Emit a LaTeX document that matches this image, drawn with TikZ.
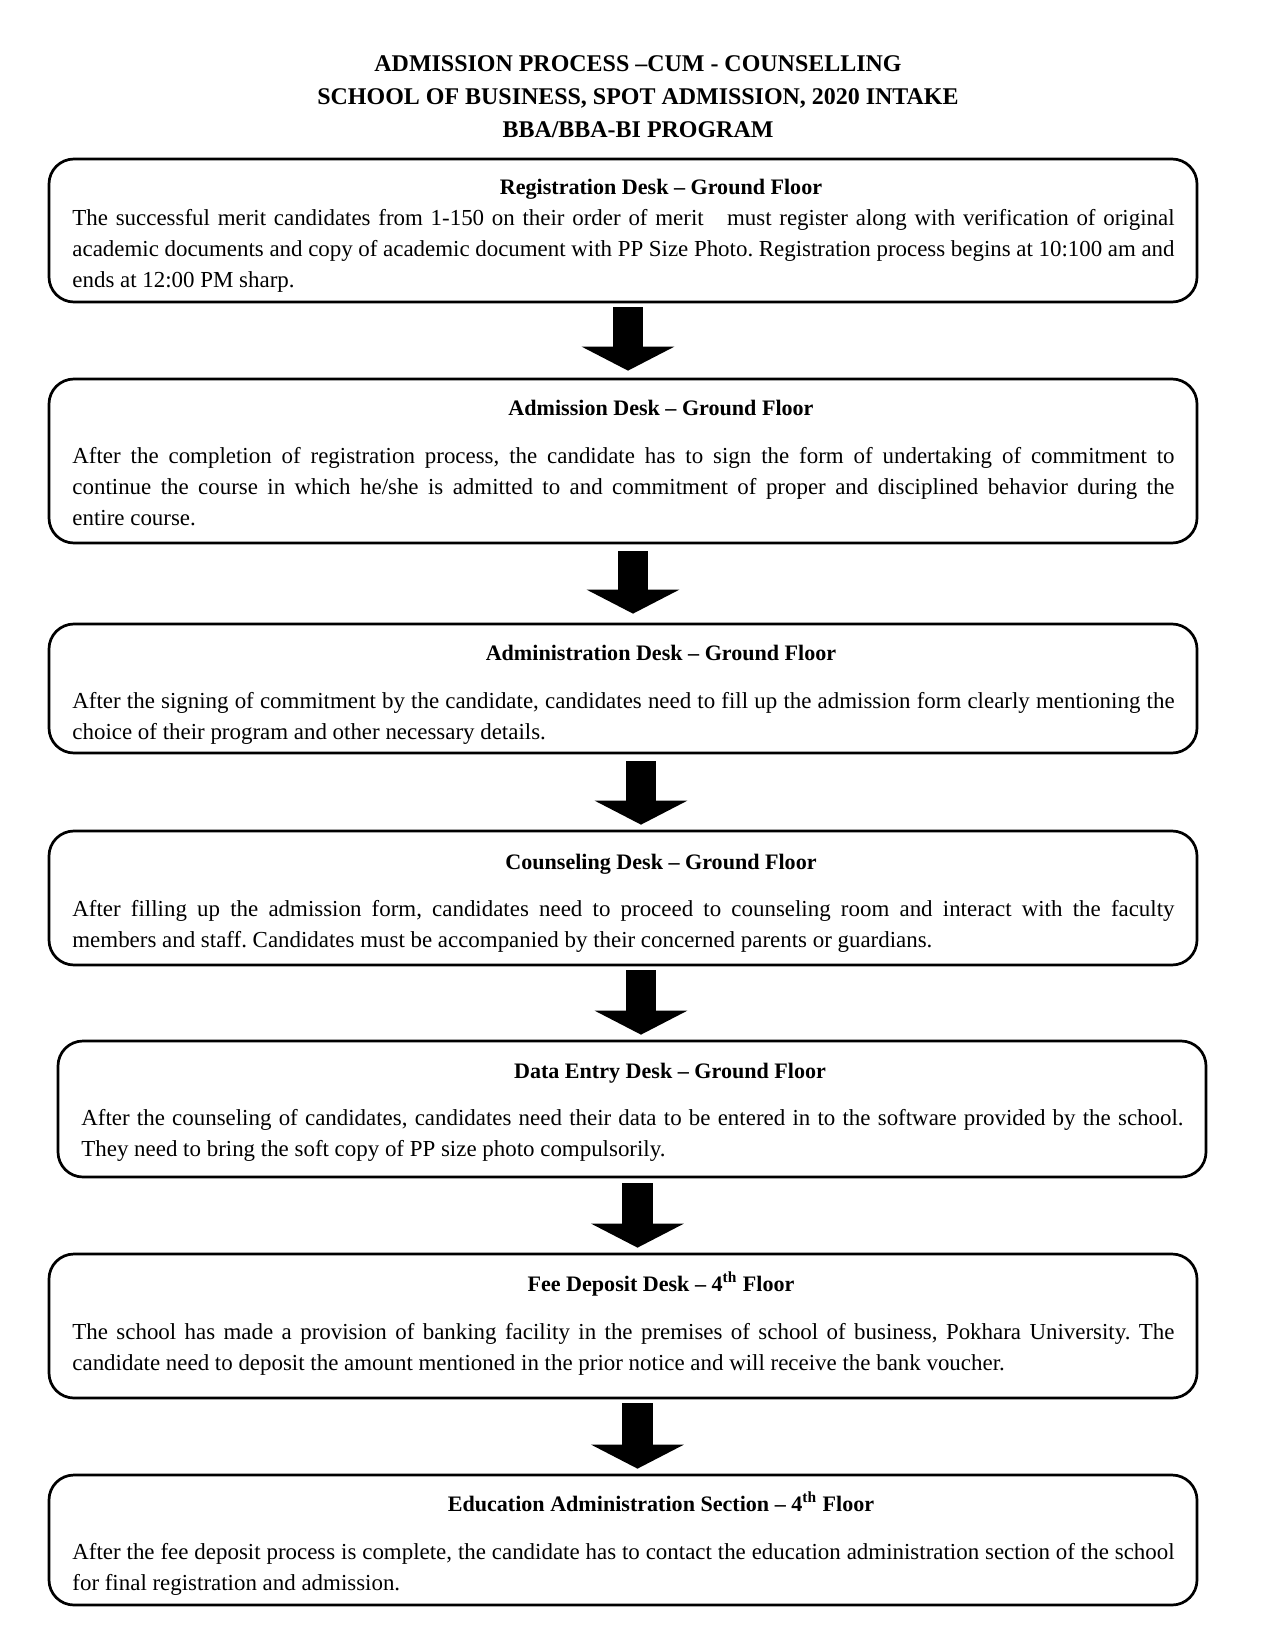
\documentclass[tikz,border=0pt]{standalone}
\usepackage{fontspec}
\setmainfont{Liberation Serif}
\usetikzlibrary{arrows.meta,calc}
\frenchspacing
\begin{document}
\begin{tikzpicture}[x=0.48pt,y=-0.48pt,
  box/.style={draw=black,line width=1.3pt,rounded corners=12pt,minimum width=1148*0.48pt,inner sep=0pt},
  ttl/.style={anchor=base,inner sep=0pt,font=\fontsize{11.5pt}{14pt}\selectfont\bfseries},
  head/.style={anchor=base,inner sep=0pt,font=\fontsize{10.6pt}{14pt}\selectfont\bfseries},
  body/.style={anchor=base west,inner sep=0pt,text width=529pt,align=justify,font=\fontsize{11pt}{14.88pt}\selectfont\frenchspacing},
  bigarrow/.style={line width=14.5pt,-{Triangle[width=44pt,length=11.5pt]}}]
\useasboundingbox (0,0) rectangle (1275,1650);
% title
\node[ttl] (t1) at (638,72) {ADMISSION PROCESS –CUM - COUNSELLING};
\node[ttl] (t2) at (638,105) {SCHOOL OF BUSINESS, SPOT ADMISSION, 2020 INTAKE};
\node[ttl] (t3) at (638,138) {BBA/BBA-BI PROGRAM};
% boxes
\node[box,minimum height=143*0.48pt] (b1) at (623,230.5) {};
\node[box,minimum height=164*0.48pt] (b2) at (623,461) {};
\node[box,minimum height=129*0.48pt] (b3) at (623,688.5) {};
\node[box,minimum height=134*0.48pt] (b4) at (623,898) {};
\node[box,minimum height=136*0.48pt] (b5) at (632,1109) {};
\node[box,minimum height=144*0.48pt] (b6) at (623,1326) {};
\node[box,minimum height=130*0.48pt] (b7) at (623,1540) {};
% headings
\node[head] (h1) at (661,195) {Registration Desk – Ground Floor};
\node[head] (h2) at (661,416) {Admission Desk – Ground Floor};
\node[head] (h3) at (661,660) {Administration Desk – Ground Floor};
\node[head] (h4) at (661,869) {Counseling Desk – Ground Floor};
\node[head] (h5) at (670,1078) {Data Entry Desk – Ground Floor};
\node[head] (h6) at (661,1291) {Fee Deposit Desk – 4\textsuperscript{th} Floor};
\node[head] (h7) at (661,1511) {Education Administration Section – 4\textsuperscript{th} Floor};
% body texts
\node[body] (p1) at (72,226) {The successful merit candidates from 1-150 on their order of merit\ \ \ must register along with verification of original\linebreak academic documents and copy of academic document with PP Size Photo. Registration process begins at 10:100 am and\linebreak ends at 12:00 PM sharp.};
\node[body] (p2) at (72,463) {After the completion of registration process, the candidate has to sign the form of undertaking of commitment to\linebreak continue the course in which he/she is admitted to and commitment of proper and disciplined behavior during the\linebreak entire course.};
\node[body] (p3) at (72,708) {After the signing of commitment by the candidate, candidates need to fill up the admission form clearly mentioning the\linebreak choice of their program and other necessary details.};
\node[body] (p4) at (72,916) {After filling up the admission form, candidates need to proceed to counseling room and interact with the faculty\linebreak members and staff. Candidates must be accompanied by their concerned parents or guardians.};
\node[body] (p5) at (81,1125) {After the counseling of candidates, candidates need their data to be entered in to the software provided by the school.\linebreak They need to bring the soft copy of PP size photo compulsorily.};
\node[body] (p6) at (72,1339) {The school has made a provision of banking facility in the premises of school of business, Pokhara University. The\linebreak candidate need to deposit the amount mentioned in the prior notice and will receive the bank voucher.};
\node[body] (p7) at (72,1559) {After the fee deposit process is complete, the candidate has to contact the education administration section of the school\linebreak for final registration and admission.};
% arrows
\draw[bigarrow] ($(b1.south)+(5,4)$) -- ($(b2.north)+(5,-7)$);
\draw[bigarrow] ($(b2.south)+(10,7)$) -- ($(b3.north)+(10,-9)$);
\draw[bigarrow] ($(b3.south)+(18,7)$) -- ($(b4.north)+(18,-5)$);
\draw[bigarrow] ($(b4.south)+(18,4)$) -- ($(b5.north)+(9,-5)$);
\draw[bigarrow] ($(b5.south)+(5.5,5)$) -- ($(b6.north)+(14.5,-5)$);
\draw[bigarrow] ($(b6.south)+(14.5,4)$) -- ($(b7.north)+(14.5,-5)$);
\end{tikzpicture}
\end{document}
